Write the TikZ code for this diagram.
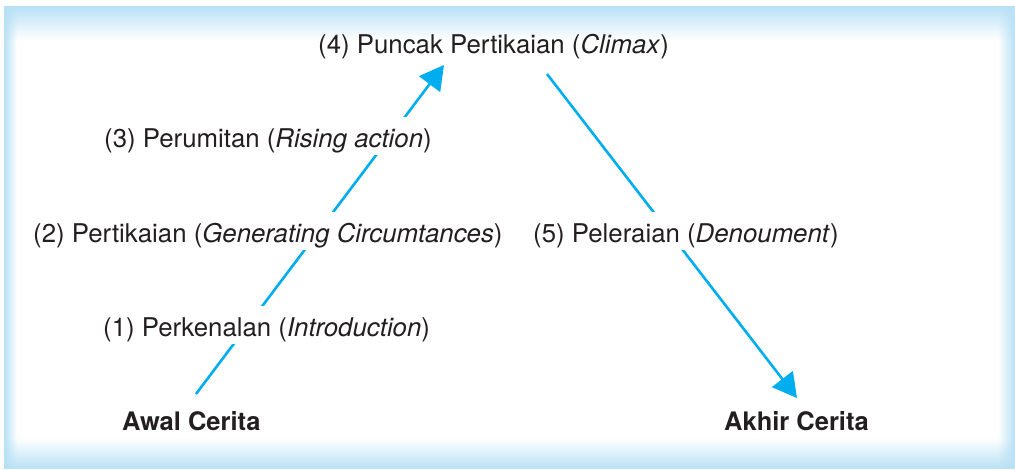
\documentclass[tikz,border=0pt]{standalone}
\usepackage{fontspec}
\setmainfont{TeX Gyre Heros}
\usetikzlibrary{arrows.meta,fadings}
\definecolor{arrowcyan}{HTML}{00AEEF}
\definecolor{edgeblue}{HTML}{B8E1F6}
\definecolor{textdark}{HTML}{231F20}
\tikzfading[name=fadetop, top color=transparent!0, bottom color=transparent!100]
\tikzfading[name=fadebottom, top color=transparent!100, bottom color=transparent!0]
\tikzfading[name=fadeleft, left color=transparent!0, right color=transparent!100]
\tikzfading[name=faderight, left color=transparent!100, right color=transparent!0]
\tikzset{
  plainlabel/.style={anchor=base west, inner xsep=0pt, inner ysep=0pt, text height=30pt, text depth=8pt,
    text=textdark, font=\fontsize{25.8pt}{30pt}\selectfont},
  label/.style={plainlabel, fill=white},
  endlabel/.style={plainlabel, font=\fontsize{25.5pt}{30pt}\selectfont\bfseries},
  flow/.style={draw=arrowcyan, line width=2.6pt, -{Triangle[length=24pt,width=26pt]}}
}
\begin{document}
\begin{tikzpicture}[x=1pt,y=-1pt]
\useasboundingbox (0,0) rectangle (1015,469);
% background frame
\fill[white] (4,6) rectangle (1015,469);
\fill[edgeblue, path fading=fadeleft] (4,6) rectangle (17,469);
\fill[edgeblue, path fading=faderight] (998,6) rectangle (1015,469);
\fill[edgeblue, path fading=fadetop] (4,6) rectangle (1015,40);
\fill[edgeblue, path fading=fadebottom] (4,438) rectangle (1015,469);
% connector ends
\coordinate (startL) at (196,394);
\coordinate (tipL) at (444,65);
\coordinate (startR) at (547,74);
\coordinate (tipR) at (797,398);
\draw[flow] (startL) -- (tipL);
\draw[flow] (startR) -- (tipR);
% labels
\node[plainlabel] (climax) at (318,53) {(4) Puncak Pertikaian (\textit{Climax})};
\node[label] (rising) at (104,147) {(3) Perumitan (\textit{Rising action})};
\node[label] (generating) at (33,242) {(2) Pertikaian (\textit{Generating Circumtances})};
\node[label] (denoument) at (533,242) {(5) Peleraian (\textit{Denoument})};
\node[label] (intro) at (103,336) {(1) Perkenalan (\textit{Introduction})};
\node[endlabel] (awal) at (122,430) {Awal Cerita};
\node[endlabel] (akhir) at (724,430) {Akhir Cerita};
\end{tikzpicture}
\end{document}
